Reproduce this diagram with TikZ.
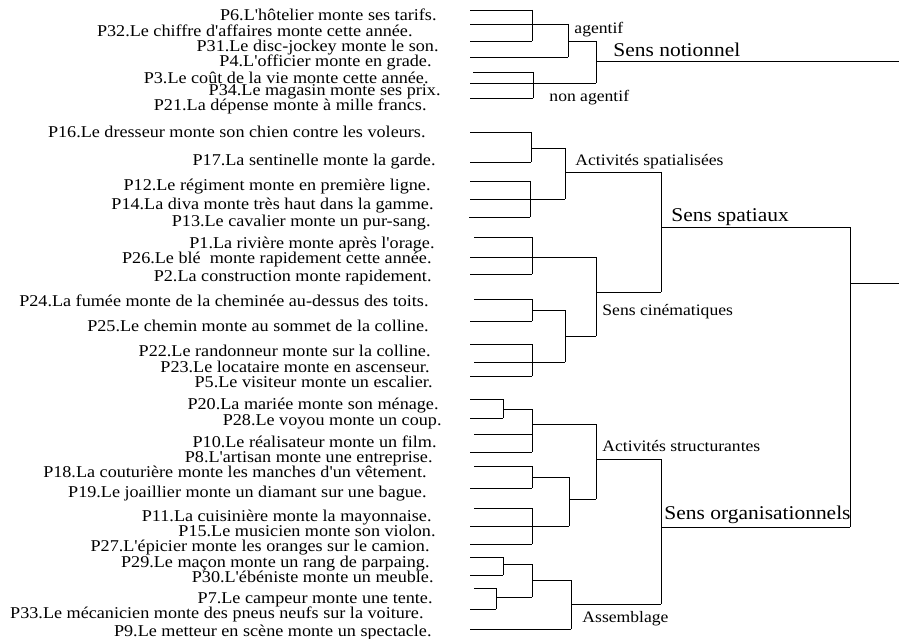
\documentclass[tikz,border=0pt]{standalone}
\usepackage{fontspec}
\setmainfont{Liberation Serif}[FakeStretch=1.1, Ligatures=TeXOff]
\begin{document}
\begin{tikzpicture}[x=1pt, y=-1pt, line width=0.9pt,
    leaf/.style={anchor=base east, inner sep=0pt, font=\fontsize{16.5}{16.5}\selectfont},
    grp/.style={anchor=base west, inner sep=0pt, font=\fontsize{16}{16}\selectfont},
    sens/.style={anchor=base west, inner sep=0pt, font=\fontsize{19.5}{19.5}\selectfont}]
      \useasboundingbox (0,0) rectangle (899,639);
      %
      \node[leaf] (p6)  at (437,21)  {P6.L'hôtelier monte ses tarifs.};   % sens notionnel
      \node[leaf] (p32) at (413,37)  {P32.Le chiffre d'affaires monte cette année.};
      \node[leaf] (p31) at (439,52)  {P31.Le disc-jockey monte le son.};
      \node[leaf] (p4)  at (432,67)  {P4.L'officier monte en grade.};
      \node[leaf] (p3)  at (429,84)  {P3.Le coût de la vie monte cette année.};
      \node[leaf] (p34) at (441,96)  {P34.Le magasin monte ses prix.};
      \node[leaf] (p21) at (427,111) {P21.La dépense monte à mille francs.};
      %
      \node[leaf] (p16) at (426,138) {P16.Le dresseur monte son chien contre les voleurs.}; % sens spatiaux
      \node[leaf] (p17) at (436,166) {P17.La sentinelle monte la garde.};
      \node[leaf] (p12) at (431,190) {P12.Le régiment monte en première ligne.};
      \node[leaf] (p14) at (434,209) {P14.La diva monte très haut dans la gamme.};
      \node[leaf] (p13) at (431,226) {P13.Le cavalier monte un pur-sang.};
      \node[leaf] (p1)  at (435,248) {P1.La rivière monte après l'orage.};
      \node[leaf] (p26) at (432,263) {P26.Le blé\ \ monte rapidement cette année.};
      \node[leaf] (p2)  at (432,281) {P2.La construction monte rapidement.};
      \node[leaf] (p24) at (429,306) {P24.La fumée monte de la cheminée au-dessus des toits.};
      \node[leaf] (p25) at (429,331) {P25.Le chemin monte au sommet de la colline.};
      \node[leaf] (p22) at (431,356) {P22.Le randonneur monte sur la colline.};
      \node[leaf] (p23) at (430,372) {P23.Le locataire monte en ascenseur.};
      \node[leaf] (p5)  at (433,387) {P5.Le visiteur monte un escalier.};
      %
      \node[leaf] (p20) at (439,409) {P20.La mariée monte son ménage.};   % sens organisationnels
      \node[leaf] (p28) at (442,425) {P28.Le voyou monte un coup.};
      \node[leaf] (p10) at (437,447) {P10.Le réalisateur monte un film.};
      \node[leaf] (p8)  at (433,462) {P8.L'artisan monte une entreprise.};
      \node[leaf] (p18) at (427,477) {P18.La couturière monte les manches d'un vêtement.};
      \node[leaf] (p19) at (427,497) {P19.Le joaillier monte un diamant sur une bague.};
      \node[leaf] (p11) at (432,521) {P11.La cuisinière monte la mayonnaise.};
      \node[leaf] (p15) at (436,536) {P15.Le musicien monte son violon.};
      \node[leaf] (p27) at (430,551) {P27.L'épicier monte les oranges sur le camion.};
      \node[leaf] (p29) at (430,567) {P29.Le maçon monte un rang de parpaing.};
      \node[leaf] (p30) at (434,582) {P30.L'ébéniste monte un meuble.};
      \node[leaf] (p7)  at (433,603) {P7.Le campeur monte une tente.};
      \node[leaf] (p33) at (424,618) {P33.Le mécanicien monte des pneus neufs sur la voiture.};
      \node[leaf] (p9)  at (432,636) {P9.Le metteur en scène monte un spectacle.};
      %
      \node[grp] (agentif)    at (574,34)  {agentif};                  % group labels
      \node[grp] (nonagentif) at (549,102) {non agentif};
      \node[grp] (actspat)    at (575,166) {Activités spatialisées};
      \node[grp] (senscine)   at (602,315) {Sens cinématiques};
      \node[grp] (actstruct)  at (602,451) {Activités structurantes};
      \node[grp] (assembl)    at (582,622) {Assemblage};
      \node[sens] (notionnel) at (613,57)  {Sens notionnel};
      \node[sens] (spatiaux)  at (671,222) {Sens spatiaux};
      \node[sens] (organis)   at (664,519) {Sens organisationnels};
      %
      \draw (470,10) -- (532,10);   % agentif
      \draw (470,24) -- (568,24);
      \draw (470,41) -- (532,41);
      \draw (532,10) -- (532,41);
      \draw (470,57) -- (568,57);
      \draw (568,24) -- (568,57);
      \draw (568,41) -- (596,41);
      %%
      \draw (473,72) -- (533,72);   % non agentif
      \draw (470,83) -- (596,83);
      \draw (470,98) -- (533,98);
      \draw (533,72) -- (533,98);
      \draw (596,41) -- (596,83);
      \draw (596,61) -- (899,61);
      %
      \draw (470,132) -- (531,132); % activites spatialisees
      \draw (470,162) -- (531,162);
      \draw (531,132) -- (531,162);
      \draw (531,148) -- (565,148);
      \draw (470,181) -- (530,181);
      \draw (470,199) -- (565,199);
      \draw (469,217) -- (530,217);
      \draw (530,181) -- (530,217);
      \draw (565,148) -- (565,199);
      \draw (565,172) -- (661,172);
      %%
      \draw (474,237) -- (532,237); % sens cinematiques
      \draw (470,257) -- (596,257);
      \draw (470,274) -- (532,274);
      \draw (532,237) -- (532,274);
      \draw (474,299) -- (532,299);
      \draw (470,321) -- (532,321);
      \draw (532,299) -- (532,321);
      \draw (532,310) -- (565,310);
      \draw (470,344) -- (532,344);
      \draw (474,362) -- (565,362);
      \draw (470,376) -- (532,376);
      \draw (532,344) -- (532,376);
      \draw (565,310) -- (565,362);
      \draw (565,336) -- (596,336);
      \draw (596,257) -- (596,336);
      \draw (596,292) -- (661,292);
      \draw (661,172) -- (661,292);
      \draw (661,227) -- (850,227);
      %
      \draw (470,399) -- (503,399); % activites structurantes
      \draw (470,418) -- (503,418);
      \draw (503,399) -- (503,418);
      \draw (503,409) -- (532,409);
      \draw (474,434) -- (532,434);
      \draw (470,452) -- (532,452);
      \draw (532,409) -- (532,452);
      \draw (532,424) -- (596,424);
      \draw (474,466) -- (532,466);
      \draw (470,488) -- (532,488);
      \draw (532,466) -- (532,488);
      \draw (532,477) -- (569,477);
      \draw (474,508) -- (532,508);
      \draw (470,526) -- (569,526);
      \draw (470,544) -- (532,544);
      \draw (532,508) -- (532,544);
      \draw (569,477) -- (569,526);
      \draw (569,499) -- (596,499);
      \draw (596,424) -- (596,499);
      \draw (596,459) -- (661,459);
      %%
      \draw (470,557) -- (503,557); % assemblage
      \draw (470,575) -- (503,575);
      \draw (503,557) -- (503,575);
      \draw (503,564) -- (532,564);
      \draw (474,588) -- (496,588);
      \draw (470,609) -- (496,609);
      \draw (496,588) -- (496,609);
      \draw (496,597) -- (532,597);
      \draw (532,564) -- (532,597);
      \draw (532,580) -- (571,580);
      \draw (470,629) -- (571,629);
      \draw (571,580) -- (571,629);
      \draw (571,604) -- (661,604);
      \draw (661,459) -- (661,604);
      \draw (661,527) -- (850,527);
      %
      \draw (850,227) -- (850,527); % top
      \draw (850,283) -- (899,283);
      %
    \end{tikzpicture}
\end{document}
